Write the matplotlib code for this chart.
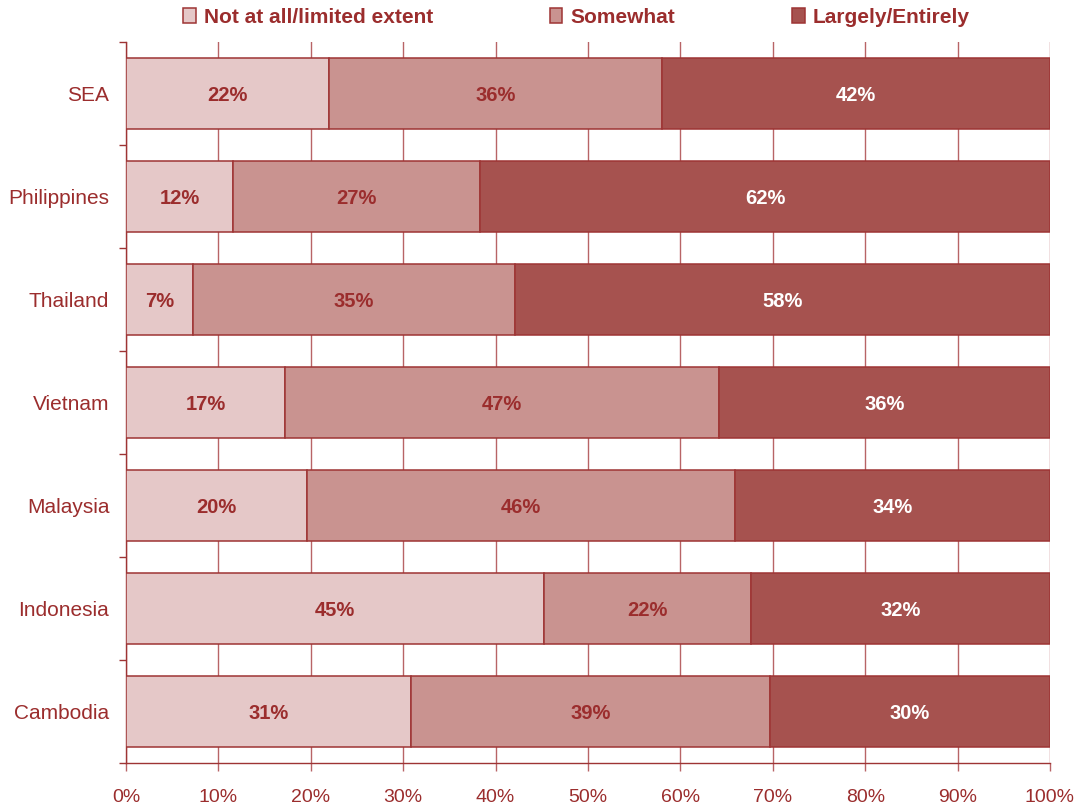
import matplotlib.pyplot as plt
import numpy as np
from matplotlib.patches import Patch

plt.rcParams['font.family'] = ['Liberation Sans', 'DejaVu Sans']

countries = ["SEA", "Philippines", "Thailand", "Vietnam", "Malaysia", "Indonesia", "Cambodia"]
not_at_all = [22.0, 11.6, 7.2, 17.2, 19.6, 45.2, 30.8]
somewhat = [36.0, 26.7, 34.9, 47.0, 46.3, 22.4, 38.9]
largely = [42.0, 61.7, 57.9, 35.8, 34.1, 32.4, 30.3]
series_names = ["Not at all/limited extent", "Somewhat", "Largely/Entirely"]
x_ticks = [0, 10, 20, 30, 40, 50, 60, 70, 80, 90, 100]

FILLS = ["#e5c8c8", "#c99390", "#a6524f"]
EDGE = "#9e3434"
TEXT = "#9b2d2d"
LABEL_COLORS = [TEXT, TEXT, "white"]
GRID = "#b86466"

fig = plt.figure(figsize=(10.88, 8.10), dpi=100)
ax = fig.add_axes([126 / 1088, 1 - 763 / 810, 924 / 1088, 721 / 810])

y = np.arange(len(countries))
left = np.zeros(len(countries))
for vals, name, fill, lc in zip([not_at_all, somewhat, largely], series_names, FILLS, LABEL_COLORS):
    vals = np.array(vals)
    ax.barh(y, vals, left=left, height=0.68, color=fill, edgecolor=EDGE,
            linewidth=1.1, zorder=3, label=name)
    for yi, l, v in zip(y, left, vals):
        ax.text(l + v / 2, yi, f"{v:.0f}%", ha="center", va="center_baseline",
                fontsize=14.5, fontweight="bold", color=lc, zorder=4)
    left = left + vals

ax.set_xlim(0, 100)
ax.set_ylim(len(countries) - 0.5, -0.5)
ax.set_xticks(x_ticks)
ax.set_xticklabels([f"{t}%" for t in x_ticks])
ax.set_yticks(y)
ax.set_yticklabels(countries)
ax.set_yticks(np.arange(len(countries) + 1) - 0.5, minor=True)

ax.xaxis.grid(True, color=GRID, linewidth=1.0, zorder=0)
ax.set_axisbelow(True)
ax.tick_params(axis="x", colors=GRID, labelcolor=TEXT, labelsize=14,
               length=6, width=1.0, pad=13)
ax.tick_params(axis="y", which="major", length=0, labelcolor=TEXT,
               labelsize=15, pad=12)
ax.tick_params(axis="y", which="minor", length=5, width=1.0, colors=EDGE)

for side in ["top", "right"]:
    ax.spines[side].set_visible(False)
for side in ["left", "bottom"]:
    ax.spines[side].set_color(EDGE)
    ax.spines[side].set_linewidth(1.0)

handles = [Patch(facecolor=f, edgecolor=EDGE, linewidth=1.1) for f in FILLS]
leg = fig.legend(handles, series_names, loc="center", bbox_to_anchor=(0.530, 0.979),
                 ncol=3, frameon=False, handlelength=0.6, handleheight=0.7,
                 handletextpad=0.4, columnspacing=5.6,
                 prop={"size": 15, "weight": "bold"})
for t in leg.get_texts():
    t.set_color(TEXT)

fig.savefig("out.png", dpi=100)
